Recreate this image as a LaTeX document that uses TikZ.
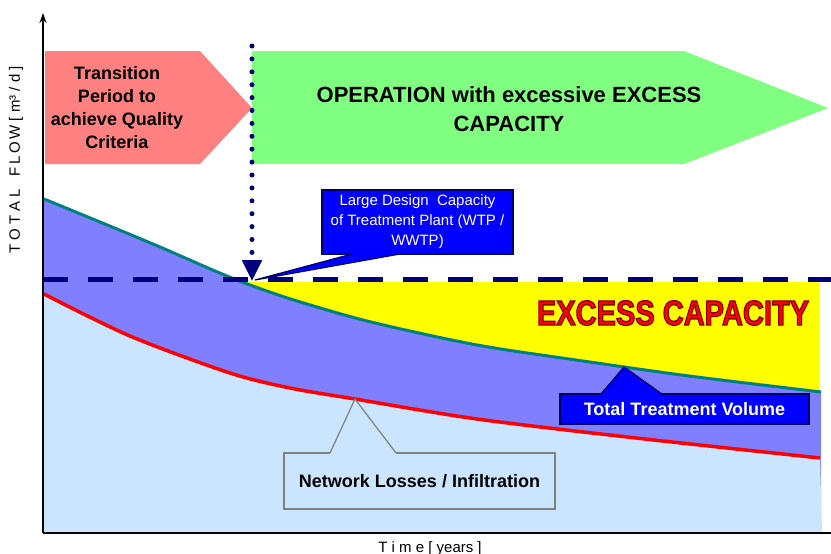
\documentclass[tikz,border=0pt]{standalone}
\usepackage{fontspec}
\setmainfont{Liberation Sans}
\usepackage{tikz}
\usetikzlibrary{arrows.meta}
\definecolor{transfill}{HTML}{FF8080}
\definecolor{operfill}{HTML}{80FF80}
\definecolor{volfill}{HTML}{8080FF}
\definecolor{lossfill}{HTML}{CCE5FF}
\definecolor{excessfill}{HTML}{FFFF00}
\definecolor{tealline}{HTML}{008080}
\definecolor{navyline}{HTML}{000080}
\definecolor{boxblue}{HTML}{0000FF}
\definecolor{boxedge}{HTML}{000060}
% outlined red letters (fill + stroke)
\newcommand{\excesslabel}{\scalebox{0.83}[1]{\special{pdf:code q 2 Tr 1.3 w 0.5 0 0 RG}EXCESS CAPACITY\special{pdf:code Q}}}

\begin{document}
\begin{tikzpicture}[x=1pt,y=-1pt,
        axis/.style={line width=1.8pt,black},
        phasetext/.style={font=\fontsize{18}{23}\selectfont\bfseries,align=center},
        optext/.style={font=\fontsize{22}{29}\selectfont\bfseries,align=center},
        callout/.style={draw=boxedge,fill=boxblue,line width=1.2pt,inner sep=0pt,text=white},
        lossbox/.style={draw=gray,fill=lossfill,line width=1.2pt,inner sep=0pt},
        excessfont/.style={font=\fontsize{35}{40}\selectfont\bfseries,inner sep=0pt}]

        \useasboundingbox (0,0) rectangle (831,554);

        % Areas
        \fill[excessfill] (235,282) rectangle (820,533);
        \fill[volfill] (44,533) -- plot[smooth] coordinates {(44,199) (100,222) (160,247) (215,271) (250,285) (297,301) (371,322) (477,345) (583,361) (689,376) (821,392)} -- (821,533) -- cycle;
        \fill[lossfill] (44,533) -- plot[smooth] coordinates {(44,294) (130,336) (230,373) (290,388) (355,399) (477,419) (636,438) (820,458)} -- (822,533) -- cycle;

        % Curves
        \draw[tealline,line width=3pt] plot[smooth] coordinates {(44,199) (100,222) (160,247) (215,271) (250,285) (297,301) (371,322) (477,345) (583,361) (689,376) (821,392)};
        \draw[red,line width=3.5pt] plot[smooth] coordinates {(44,294) (130,336) (230,373) (290,388) (355,399) (477,419) (636,438) (820,458)};

        % Design capacity
        \coordinate (capL) at (43,279);
        \coordinate (capR) at (831,279);
        \draw[navyline,line width=5pt,dash pattern=on 25pt off 20pt] (capL) -- (capR);

        % Phases
        \fill[transfill] (45,51) -- (200,51) -- (252,108) -- (200,164) -- (45,164) -- cycle;
        \fill[operfill] (252,51) -- (684,51) -- (828,108) -- (684,164) -- (252,164) -- cycle;
        \node[phasetext] (trans) at (117,108) {Transition\\Period to\\achieve Quality\\Criteria};
        \node[optext] (oper) at (509,109) {OPERATION with excessive EXCESS\\CAPACITY};

        % Start of operation
        \coordinate (dotTop) at (252,46);
        \coordinate (dotEnd) at (252,281);
        \draw[navyline,line width=5pt,line cap=round,dash pattern=on 0pt off 12.9pt,
              -{Triangle[width=19pt,length=21pt]}] (dotTop) -- (dotEnd);

        % Callouts
        \node[callout,minimum width=191pt,minimum height=64pt,align=center,
              font=\fontsize{15}{20}\selectfont] (capbox) at (417.5,222)
              {Large Design\ \ Capacity\\of Treatment Plant (WTP /\\WWTP)};
        \coordinate (capA) at (352,254);
        \coordinate (capB) at (400,254);
        \coordinate (captip) at (255,280);
        \fill[boxblue] ([yshift=2pt]capA) -- (capA) -- (captip) -- (capB) -- ([yshift=2pt]capB) -- cycle;
        \draw[boxedge,line width=1.2pt] (capA) -- (captip) -- (capB);

        \node[callout,minimum width=249pt,minimum height=30pt,
              font=\fontsize{18}{22}\selectfont\bfseries] (ttvbox) at (684.5,409) {Total Treatment Volume};
        \coordinate (ttvA) at (601,394);
        \coordinate (ttvB) at (662,394);
        \coordinate (ttvtip) at (624,367);
        \fill[boxblue] ([yshift=-2pt]ttvA) -- (ttvA) -- (ttvtip) -- (ttvB) -- ([yshift=-2pt]ttvB) -- cycle;
        \draw[boxedge,line width=1.2pt] (ttvA) -- (ttvtip) -- (ttvB);

        \node[lossbox,minimum width=271pt,minimum height=56pt,
              font=\fontsize{18}{22}\selectfont\bfseries] (lossbox) at (419.5,481) {Network Losses / Infiltration};
        \coordinate (lossA) at (330,453);
        \coordinate (lossB) at (396,453);
        \coordinate (losstip) at (355,399);
        \fill[lossfill] ([yshift=-2pt]lossA) -- (lossA) -- (losstip) -- (lossB) -- ([yshift=-2pt]lossB) -- cycle;
        \draw[gray,line width=1.2pt] (lossA) -- (losstip) -- (lossB);

        % Excess capacity
        \node[excessfont,text=red] (excess) at (673,313) {\excesslabel};

        % Axes
        \coordinate (origin) at (43,533);
        \coordinate (ytop) at (43,13);
        \coordinate (xend) at (831,533);
        \draw[axis,-{Stealth[length=10pt,width=7pt]}] (origin) -- (ytop);
        \draw[axis] (origin) -- (xend);
        \node[font=\fontsize{15}{18}\selectfont,rotate=90] (ylab) at (16,160) {T O T A L \ \ F\,L\,O\,W [ m³ / d ]};
        \node[font=\fontsize{15}{18}\selectfont,anchor=base] (xlab) at (430,552) {T i m e [ years ]};

\end{tikzpicture}
\end{document}
